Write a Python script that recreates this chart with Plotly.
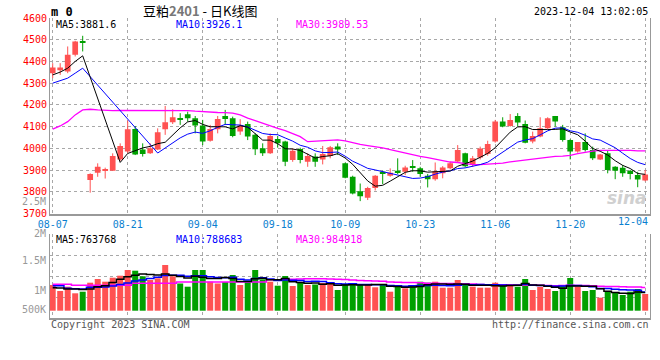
import pandas as pd
import plotly.graph_objects as go

# ---------------- data ----------------
opens = [4346, 4360, 4354, 4431, 4490, 3854, 3888, 3900, 3897, 3949,
         3985, 4089, 3995, 3977, 3995, 4088, 4120, 4140, 4157, 4138,
         4105, 4035, 4088, 4149, 4138, 4077, 4112, 4062, 4000, 3977,
         4043, 4031, 3946, 3997, 3938, 3962, 3949, 3965, 4008, 3931,
         3869, 3803, 3772, 3818, 3892, 3874, 3897, 3892, 3915, 3908,
         3874, 3858, 3885, 3908, 3939, 3977, 3923, 3958, 3974, 4031,
         4123, 4103, 4149, 4112, 4031, 4054, 4092, 4149, 4097, 4038,
         3985, 4029, 3992, 3949, 3977, 3915, 3911, 3897, 3877, 3852]
highs = [4392, 4392, 4469, 4495, 4518, 3885, 3931, 3911, 3977, 4023,
         4128, 4103, 4023, 4023, 4092, 4195, 4180, 4162, 4169, 4149,
         4131, 4108, 4149, 4177, 4146, 4134, 4123, 4069, 4023, 4069,
         4057, 4035, 4000, 4003, 3977, 3977, 4011, 4011, 4023, 3934,
         3874, 3838, 3823, 3877, 3897, 3908, 3954, 3920, 3946, 3915,
         3882, 3935, 3918, 3939, 4015, 3980, 3965, 4008, 4035, 4131,
         4143, 4158, 4162, 4128, 4077, 4143, 4143, 4149, 4108, 4042,
         4029, 4069, 4008, 3974, 3989, 3918, 3923, 3900, 3892, 3900]
lows = [4323, 4338, 4346, 4423, 4446, 3796, 3869, 3861, 3897, 3943,
        3977, 3969, 3962, 3974, 3992, 4062, 4112, 4108, 4123, 4069,
        4015, 4031, 4069, 4108, 4051, 4062, 4038, 3969, 3965, 3974,
        4003, 3918, 3938, 3931, 3915, 3915, 3926, 3954, 3969, 3862,
        3788, 3757, 3762, 3806, 3835, 3869, 3882, 3877, 3892, 3869,
        3820, 3851, 3862, 3903, 3935, 3912, 3915, 3949, 3966, 4026,
        4097, 4100, 4100, 4023, 4023, 4051, 4088, 4100, 4031, 3949,
        3980, 3985, 3946, 3946, 3885, 3858, 3869, 3857, 3821, 3848]
closes = [4372, 4372, 4431, 4492, 4486, 3882, 3915, 3903, 3965, 4011,
          4088, 3972, 3974, 4000, 4074, 4120, 4143, 4134, 4138, 4105,
          4031, 4089, 4135, 4135, 4057, 4105, 4054, 3996, 3977, 4057,
          4023, 3938, 3989, 3946, 3965, 3938, 3974, 4005, 3995, 3865,
          3792, 3780, 3818, 3874, 3885, 3888, 3888, 3912, 3912, 3882,
          3858, 3895, 3912, 3931, 3992, 3918, 3954, 3999, 4020, 4123,
          4100, 4131, 4119, 4026, 4057, 4092, 4138, 4123, 4038, 3985,
          4029, 3992, 3954, 3972, 3900, 3897, 3885, 3882, 3857, 3880]
volumes = [1105000, 847000, 1032000, 748000, 817000, 1204000, 1363000, 1247000, 1419000, 1505000,
           1750000, 1720000, 1479000, 1320000, 1393000, 1965000, 1479000, 1170000, 1032000, 1750000,
           1750000, 1247000, 1170000, 1234000, 1535000, 1105000, 1226000, 1750000, 1350000, 1247000,
           1075000, 1492000, 1062000, 1191000, 1105000, 1127000, 1191000, 1178000, 890000, 1148000,
           1178000, 1148000, 1148000, 1006000, 1148000, 817000, 1105000, 963000, 1062000, 1247000,
           1204000, 1247000, 989000, 989000, 1320000, 1148000, 1032000, 989000, 989000, 1204000,
           1105000, 1148000, 1032000, 1363000, 890000, 1032000, 933000, 847000, 1105000, 1406000,
           1032000, 847000, 890000, 559000, 847000, 774000, 675000, 817000, 933000, 718000]

# moving-average values at the start of the window (they depend on earlier history)
ma5_head = [4338, 4351, 4369, 4400, 4426]
ma10_head = [4300, 4312, 4323, 4346, 4369]
ma30_head = [4088, 4103, 4123, 4154, 4177, 4180, 4177, 4174, 4174, 4175,
             4175, 4177, 4177, 4177, 4177, 4177, 4177, 4177, 4174, 4171,
             4168, 4166, 4165, 4164, 4162, 4154, 4139, 4128, 4115, 4105,
             4092, 4082, 4069, 4054]
vma5_head = [989000, 975000, 933000, 933000]
vma10_head = [1075000, 1075000, 960000, 946000, 933000, 1006000, 1006000, 1020000, 1062000]
vma30_head = [1135000, 1135000, 1135000, 1090000, 1090000, 1090000, 1090000, 1090000, 1090000, 1090000,
              1090000, 1178000, 1178000, 1178000, 1178000, 1178000, 1178000, 1230000, 1230000, 1230000,
              1230000, 1230000, 1230000, 1230000, 1230000, 1230000, 1230000, 1230000, 1230000]
ma_restart_date = "08-14"   # price MAs restart here (contract switch gap)

tick_labels = ["08-07", "08-21", "09-04", "09-18", "10-09", "10-23", "11-06", "11-20", "12-04"]
header_price = ["MA5:3881.6", "MA10:3926.1", "MA30:3989.53"]
header_vol = ["MA5:763768", "MA10:788683", "MA30:984918"]
vol_labels = ["2.5M", "2M", "1.5M", "1M", "500K"]

# ---------------- derived ----------------
dates = pd.bdate_range("2023-08-07", "2023-12-04")
holidays = pd.to_datetime(["2023-09-29", "2023-10-02", "2023-10-03",
                           "2023-10-04", "2023-10-05", "2023-10-06"])
dates = dates[~dates.isin(holidays)]
labels = dates.strftime("%m-%d").tolist()
x = list(range(len(labels)))
tickvals = [labels.index(t) for t in tick_labels]
restart = labels.index(ma_restart_date)

RED = "#FF5252"
GREEN = "#00A000"
up = [c >= o for o, c in zip(opens, closes)]
colors = [RED if u else GREEN for u in up]


def price_ma(n, head):
    s = pd.Series(closes[restart:], dtype=float).rolling(n).mean().tolist()
    out = [None] * restart + s
    for i, v in enumerate(head):
        out[i] = v
    return [None if (v is None or v != v) else v for v in out]


def vol_ma(n, head):
    out = pd.Series(volumes, dtype=float).rolling(n).mean().tolist()
    for i, v in enumerate(head):
        out[i] = v
    return out


fig = go.Figure()

# wicks
for col, flag in ((RED, True), (GREEN, False)):
    wx, wy = [], []
    for i in x:
        if up[i] == flag:
            wx += [i, i, None]
            wy += [lows[i], highs[i], None]
    fig.add_trace(go.Scatter(x=wx, y=wy, mode="lines", line=dict(color=col, width=1),
                             hoverinfo="skip", xaxis="x", yaxis="y"))

# bodies
fig.add_trace(go.Bar(x=x, base=[min(o, c) for o, c in zip(opens, closes)],
                     y=[max(abs(c - o), 5) for o, c in zip(opens, closes)],
                     marker=dict(color=colors, line=dict(width=0)), width=0.76,
                     xaxis="x", yaxis="y"))

# price MAs
fig.add_trace(go.Scatter(x=x, y=price_ma(30, ma30_head), mode="lines", connectgaps=True,
                         line=dict(color="#FF00FF", width=1.3), xaxis="x", yaxis="y"))
fig.add_trace(go.Scatter(x=x, y=price_ma(10, ma10_head), mode="lines", connectgaps=True,
                         line=dict(color="#0000FF", width=1), xaxis="x", yaxis="y"))
fig.add_trace(go.Scatter(x=x, y=price_ma(5, ma5_head), mode="lines", connectgaps=True,
                         line=dict(color="#000000", width=1), xaxis="x", yaxis="y"))

# volume
fig.add_trace(go.Bar(x=x, y=volumes, marker=dict(color=colors, line=dict(width=0)),
                     width=0.8, xaxis="x2", yaxis="y2"))
fig.add_trace(go.Scatter(x=x, y=vol_ma(30, vma30_head), mode="lines", line_shape="hvh",
                         line=dict(color="#FF00FF", width=1.5), xaxis="x2", yaxis="y2"))
fig.add_trace(go.Scatter(x=x, y=vol_ma(10, vma10_head), mode="lines", line_shape="hvh",
                         line=dict(color="#0000FF", width=1.5), xaxis="x2", yaxis="y2"))
fig.add_trace(go.Scatter(x=x, y=vol_ma(5, vma5_head), mode="lines", line_shape="hvh",
                         line=dict(color="#000000", width=1.5), xaxis="x2", yaxis="y2"))

MONO = "DejaVu Sans Mono"
GRID = "#A8A8A8"
AXL = "#999999"
vlo, vhi = -314000, 3285000
vgrid = [vlo + k * (vhi - vlo) / 4 for k in (1, 2, 3)] + [vhi - 1]

# last date label is drawn as an annotation (kept inside the frame like the original)
ticktext = tick_labels[:-1] + [""]

fig.update_layout(
    width=660, height=360,
    margin=dict(l=50, r=10, t=18, b=42),
    paper_bgcolor="white", plot_bgcolor="white",
    showlegend=False, barmode="overlay", hovermode=False,
    xaxis=dict(domain=[0, 1], range=[-0.36, 79.64], anchor="y",
               tickmode="array", tickvals=tickvals, ticktext=ticktext,
               tickfont=dict(family=MONO, size=10, color="#0A7FD0"),
               ticklabeloverflow="allow", ticklen=0,
               showgrid=True, gridcolor=GRID, griddash="dot", gridwidth=1,
               showline=True, linecolor=AXL, linewidth=2, zeroline=False, ticks=""),
    yaxis=dict(domain=[0.3483, 1], range=[3700, 4600], anchor="x",
               tick0=3700, dtick=100, ticklen=0,
               tickfont=dict(family=MONO, size=10, color="#FF0000"),
               showgrid=True, gridcolor=GRID, griddash="dot", gridwidth=1,
               showline=True, mirror=True, linecolor=AXL, linewidth=1,
               zeroline=False, ticks=""),
    xaxis2=dict(domain=[0, 1], matches="x", anchor="y2",
                tickmode="array", tickvals=tickvals, showticklabels=False,
                showgrid=True, gridcolor=GRID, griddash="dot", gridwidth=1,
                showline=True, linecolor=AXL, linewidth=2, zeroline=False, ticks=""),
    yaxis2=dict(domain=[0, 0.279], range=[vlo, vhi], anchor="x2",
                tickmode="array", tickvals=vgrid, showticklabels=False,
                showgrid=True, gridcolor=GRID, griddash="dot", gridwidth=1,
                showline=True, mirror=True, linecolor=AXL, linewidth=1,
                zeroline=False, ticks=""),
)


def px(xp):
    return (xp - 50) / 600.0


def py(yp):
    return (318 - yp) / 300.0


ann = []


def add(text, xp, yp, xanchor="left", size=10, color="#000", family=MONO, **kw):
    ann.append(dict(text=text, x=px(xp), y=py(yp), xref="paper", yref="paper",
                    xanchor=xanchor, yanchor="middle", showarrow=False, borderpad=0,
                    font=dict(family=family, size=size, color=color, **kw)))


add("<b>m 0</b>", 50, 12, size=12)
add("豆粕<b><span style='color:#777777'>2401</span></b> - 日K线图", 200, 11, xanchor="center",
    size=13, family="Noto Sans CJK SC")
add("2023-12-04 13:02:05", 649, 12, xanchor="right")
hdr_colors = ["#000000", "#0000FF", "#FF00FF"]
for t, xp, c in zip(header_price, (55, 175, 295), hdr_colors):
    add(t, xp, 24, color=c)
for t, xp, c in zip(header_vol, (55, 175, 295), hdr_colors):
    add(t, xp, 239, color=c)
for t, yp in zip(vol_labels, (201, 233.5, 260.5, 290, 309.5)):
    add(t, 47, yp, xanchor="right", color="#999999")
add(tick_labels[-1], 649, 222, xanchor="right", color="#0A7FD0")
add("Copyright 2023 SINA.COM", 50, 324, color="#555555")
add("http://finance.sina.com.cn", 650, 324, xanchor="right", color="#555555")
add("<b><i>sina</i></b>", 627, 198, xanchor="center", size=17, color="#D0D0D0",
    family="DejaVu Sans")

fig.update_layout(annotations=ann)
fig.write_html("out.html", config={"displayModeBar": False},
               post_script="document.body.style.margin='0';document.body.style.padding='0';")
